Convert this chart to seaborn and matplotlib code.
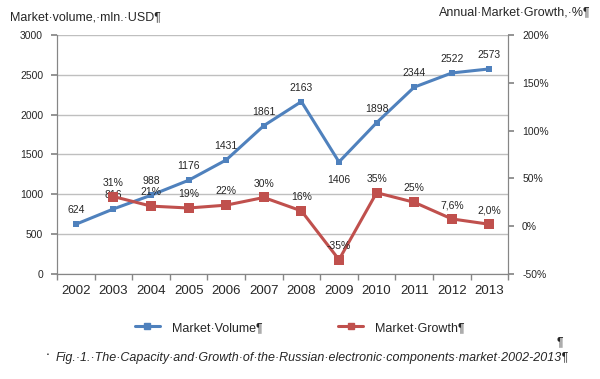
import matplotlib
matplotlib.use("Agg")
import matplotlib.pyplot as plt
from matplotlib.lines import Line2D
import seaborn as sns
import pandas as pd

years = ["2002", "2003", "2004", "2005", "2006", "2007", "2008",
         "2009", "2010", "2011", "2012", "2013"]
volume = [624, 816, 988, 1176, 1431, 1861, 2163, 1406, 1898, 2344, 2522, 2573]
growth_years = years[1:]
growth = [31, 21, 19, 22, 30, 16, -35, 35, 25, 7.6, 2.0]
growth_labels = ["31%", "21%", "19%", "22%", "30%", "16%", "-35%",
                 "35%", "25%", "7,6%", "2,0%"]

blue = "#4F81BD"
red = "#C0504D"
grid_col = "#BFBFBF"
axis_col = "#868686"
txt = "#262626"

sns.set_theme(style="white")
plt.rcParams["font.family"] = ["Liberation Sans", "DejaVu Sans"]

df_vol = pd.DataFrame({"year": years, "volume": volume})
df_gr = pd.DataFrame({"year": growth_years, "growth": growth})

fig = plt.figure(figsize=(6, 3.79), dpi=100)
ax = fig.add_axes([0.095, 0.277, 0.752, 0.631])

sns.lineplot(data=df_vol, x="year", y="volume", ax=ax, color=blue, lw=2.2,
             marker="s", markersize=5, markeredgewidth=0, sort=False)
ax.set_xlim(-0.5, len(years) - 0.5)
ax.set_ylim(0, 3000)
ax.set_yticks(range(0, 3001, 500))
ax.yaxis.grid(True, color=grid_col, lw=1)
ax.set_xlabel("")
ax.set_ylabel("")

ax2 = ax.twinx()
sns.lineplot(data=df_gr, x="year", y="growth", ax=ax2, color=red, lw=2.2,
             marker="s", markersize=6.5, markeredgewidth=0, sort=False)
ax2.set_ylim(-50, 200)
ax2.set_yticks(range(-50, 201, 50))
ax2.set_yticklabels([f"{v}%" for v in range(-50, 201, 50)])
ax2.set_xlim(-0.5, len(years) - 0.5)
ax2.set_ylabel("")
ax2.grid(False)

for a in (ax, ax2):
    for s in a.spines.values():
        s.set_color(axis_col)
        s.set_linewidth(0.8)
    a.spines["top"].set_visible(False)

ax.tick_params(axis="y", labelsize=7.5, length=4, color=axis_col, left=True,
               pad=6, labelcolor=txt)
ax2.tick_params(axis="y", labelsize=7.5, length=4, color=axis_col, right=True,
                pad=6, labelcolor=txt)
ax.tick_params(axis="x", labelsize=9.5, length=0, pad=8, labelcolor=txt)
ax.set_xticks(range(len(years)), minor=False)
ax.set_xticks([i - 0.5 for i in range(len(years) + 1)], minor=True)
ax.tick_params(axis="x", which="minor", length=4, color=axis_col, bottom=True)
ax.set_axisbelow(True)

# data labels
for i, (y, v) in enumerate(zip(years, volume)):
    dy = -13 if y == "2009" else 10
    ax.annotate(str(v), (i, v), xytext=(0, dy), textcoords="offset points",
                ha="center", va="center", fontsize=7.5, color=txt)
for j, (g, lab) in enumerate(zip(growth, growth_labels)):
    ax2.annotate(lab, (j + 1, g), xytext=(0, 10), textcoords="offset points",
                 ha="center", va="center", fontsize=7.5, color=txt)

fig.text(0.017, 0.955, "Market·volume,·mln.·USD¶", fontsize=9, color=txt,
         va="center", ha="left")
fig.text(0.985, 0.968, "Annual·Market·Growth,·%¶", fontsize=9, color=txt,
         va="center", ha="right")

handles = [Line2D([], [], color=blue, lw=2.2, marker="s", markersize=4),
           Line2D([], [], color=red, lw=2.2, marker="s", markersize=4)]
fig.legend(handles, ["Market·Volume¶", "Market·Growth¶"], ncol=2, loc="center",
           bbox_to_anchor=(0.5, 0.135), frameon=False, fontsize=9,
           columnspacing=6, handlelength=2, handletextpad=1,
           labelcolor=txt)

fig.text(0.928, 0.098, "¶", fontsize=9, color=txt, ha="left", va="center")
fig.text(0.078, 0.064, "▪", fontsize=4, color=txt, ha="left", va="center")
fig.text(0.092, 0.056, "Fig.·1.·The·Capacity·and·Growth·of·the·Russian·electronic·components·market·2002-2013¶",
         fontsize=9, style="italic", color=txt, ha="left", va="center")

fig.savefig("out.png", dpi=100)
